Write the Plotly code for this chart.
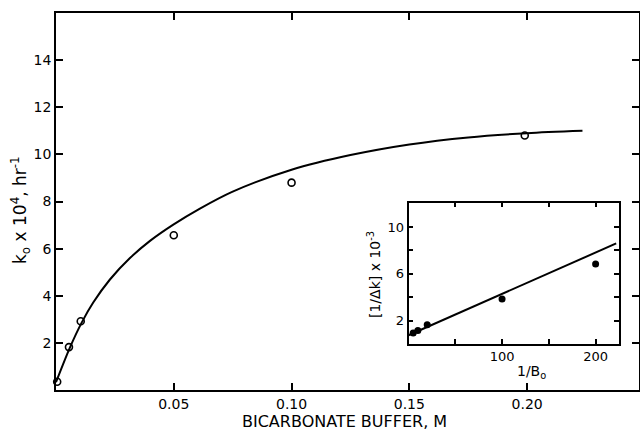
import plotly.graph_objects as go

# Main plot data: k_o x 10^4 (hr^-1) vs bicarbonate buffer (M)
buffer_conc = [0.0005, 0.0055, 0.0105, 0.05, 0.10, 0.199]
k_obs = [0.35, 1.82, 2.92, 6.57, 8.8, 10.8]

# Fitted curve
curve_x = [0.0, 0.0059, 0.0109, 0.0158, 0.0229, 0.0314, 0.0399, 0.0498, 0.0611,
           0.075, 0.10, 0.125, 0.15, 0.175, 0.20, 0.2235]
curve_y = [0.33, 1.8, 2.86, 3.71, 4.69, 5.6, 6.33, 7.02, 7.7,
           8.42, 9.35, 9.97, 10.42, 10.72, 10.9, 11.0]

main_xticks = [0.05, 0.10, 0.15, 0.20]
main_xticklabels = ["0.05", "0.10", "0.15", "0.20"]
main_yticks = [2, 4, 6, 8, 10, 12, 14]
main_yticklabels = ["2", "4", "6", "8", "10", "12", "14"]

# Inset data: [1/Δk] x 10^-3 vs 1/B_o
inv_b = [5, 10, 20, 100, 200]
inv_dk = [0.95, 1.15, 1.65, 3.85, 6.85]
inset_line_x = [0, 222]
inset_line_y = [0.75, 8.6]

inset_xticks = [50, 100, 150, 200]
inset_xticklabels = ["", "100", "", "200"]
inset_yticks = [2, 4, 6, 8, 10]
inset_yticklabels = ["2", "", "6", "", "10"]

FONT = "DejaVu Sans"
W, H = 640, 430
ML, MR, MT, MB = 56, 1, 13, 40
PW, PH = W - ML - MR, H - MT - MB

fig = go.Figure()

fig.add_trace(go.Scatter(x=curve_x, y=curve_y, mode="lines",
                         line=dict(color="black", width=2, shape="spline", smoothing=0.8),
                         xaxis="x", yaxis="y", showlegend=False, hoverinfo="skip"))
fig.add_trace(go.Scatter(x=buffer_conc, y=k_obs, mode="markers",
                         marker=dict(symbol="circle-open", size=7, color="black",
                                     line=dict(width=1.6, color="black")),
                         xaxis="x", yaxis="y", showlegend=False, cliponaxis=False))

fig.add_trace(go.Scatter(x=inset_line_x, y=inset_line_y, mode="lines",
                         line=dict(color="black", width=2),
                         xaxis="x2", yaxis="y2", showlegend=False, hoverinfo="skip"))
fig.add_trace(go.Scatter(x=inv_b, y=inv_dk, mode="markers",
                         marker=dict(symbol="circle", size=7, color="black"),
                         xaxis="x2", yaxis="y2", showlegend=False))

axis_common = dict(showline=True, linecolor="black", linewidth=1.5, mirror="allticks",
                   ticks="inside", tickcolor="black", tickwidth=1.5,
                   showgrid=False, zeroline=False, automargin=False,
                   tickfont=dict(family=FONT, size=14, color="black"))
inset_common = {**axis_common, "tickfont": dict(family=FONT, size=13, color="black")}

def px_x(px):
    return (px - ML) / PW

def px_y(py):
    return (H - MB - py) / PH

fig.update_layout(
    width=W, height=H,
    margin=dict(l=ML, r=MR, t=MT, b=MB, pad=0),
    paper_bgcolor="white", plot_bgcolor="white",
    xaxis=dict(range=[0, 0.2475], domain=[0, 1], tickvals=main_xticks,
               ticktext=main_xticklabels, ticklen=7, **axis_common),
    yaxis=dict(range=[0, 16], domain=[0, 1], tickvals=main_yticks,
               ticktext=main_yticklabels, ticklen=7, **axis_common),
    xaxis2=dict(range=[0, 225], domain=[px_x(408.5), px_x(619)], anchor="y2",
                tickvals=inset_xticks, ticktext=inset_xticklabels, ticklen=5,
                **inset_common),
    yaxis2=dict(range=[0, 12.1], domain=[px_y(344), px_y(202.5)], anchor="x2",
                tickvals=inset_yticks, ticktext=inset_yticklabels, ticklen=5,
                **inset_common),
    showlegend=False,
)

annos = [
    ("BICARBONATE BUFFER, M", 344, 421, 16, 0),
    ("k<sub>o</sub> x 10<sup>4</sup>, hr<sup>-1</sup>", 20, 210, 17, -90),
    ("[1/Δk] x 10<sup>-3</sup>", 374, 275, 14, -90),
    ("1/B<sub>o</sub>", 531, 372, 14, 0),
]
for text, x, y, size, ang in annos:
    fig.add_annotation(text=text, x=px_x(x), y=px_y(y),
                       xref="paper", yref="paper", showarrow=False,
                       xanchor="center", yanchor="middle", textangle=ang,
                       font=dict(family=FONT, color="black", size=size))

fig.write_html("out.html", config={"displayModeBar": False})

# remove default page margin so the figure sits at the window origin
with open("out.html", "r", encoding="utf-8") as f:
    html = f.read()
html = html.replace("<head>", "<head><style>html,body{margin:0;padding:0;}</style>", 1)
with open("out.html", "w", encoding="utf-8") as f:
    f.write(html)
